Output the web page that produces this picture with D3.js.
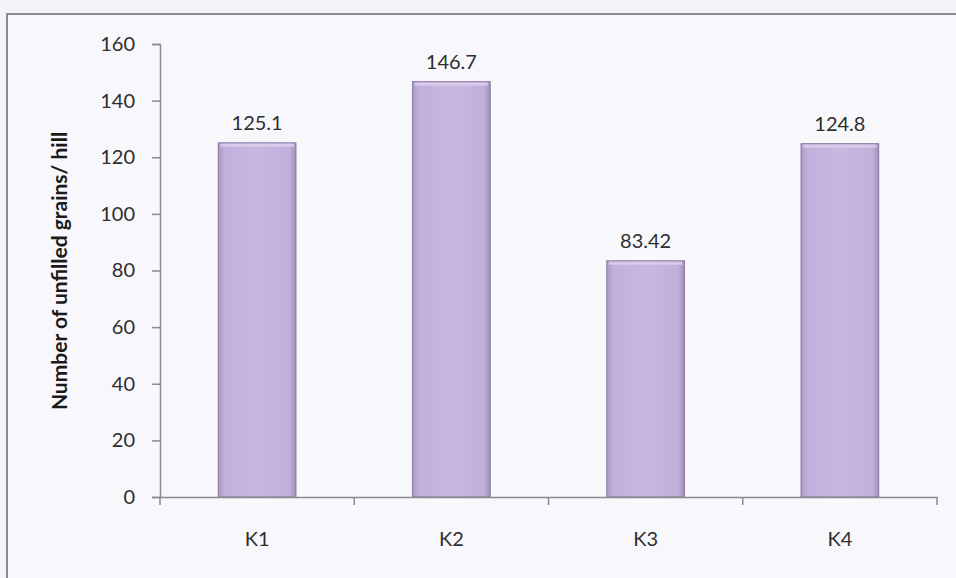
<!DOCTYPE html>
<html><head><meta charset="utf-8">
<script src="https://cdn.jsdelivr.net/npm/d3@7"></script>
<style>
html,body{margin:0;padding:0;background:#f4f4f9;}
svg{display:block;}
text{font-family:Lato,"Open Sans",sans-serif;}
</style></head>
<body>
<svg id="chart" width="956" height="578"></svg>
<script>
const categories = ["K1","K2","K3","K4"];
const values = [125.1, 146.7, 83.42, 124.8];
const valueLabels = ["125.1","146.7","83.42","124.8"];
const yTicks = [0,20,40,60,80,100,120,140,160];
const yTitle = "Number of unfilled grains/ hill";

const svg = d3.select("#chart");
const W = 956, H = 578;
const m = {left:160, right:19, top:44, bottom:81};
const pw = W - m.left - m.right, ph = H - m.top - m.bottom;

svg.append("rect").attr("x",0).attr("y",0).attr("width",W).attr("height",H).attr("fill","#f3f3f9");
svg.append("rect").attr("x",7).attr("y",14).attr("width",960).attr("height",580)
  .attr("fill","#f8f8fc").attr("stroke","#8c8c8c").attr("stroke-width",2);

const defs = svg.append("defs");
const g1 = defs.append("linearGradient").attr("id","barGrad").attr("x1","0").attr("x2","1").attr("y1","0").attr("y2","0");
[["0%","#a999c2"],["8%","#c2b0dc"],["50%","#c8b7e1"],["92%","#c2b0dc"],["100%","#9f8fb8"]]
  .forEach(([o,c])=>g1.append("stop").attr("offset",o).attr("stop-color",c));

const x = d3.scaleBand().domain(categories).range([0,pw]).paddingInner(0.6).paddingOuter(0.3);
const y = d3.scaleLinear().domain([0,160]).range([ph,0]);

const g = svg.append("g").attr("transform",`translate(${m.left},${m.top})`);

// bars
g.selectAll("rect.bar").data(values).enter().append("rect").attr("class","bar")
  .attr("x",(d,i)=>x(categories[i]))
  .attr("y",d=>y(d))
  .attr("width",x.bandwidth())
  .attr("height",d=>ph - y(d))
  .attr("fill","url(#barGrad)")
  .attr("stroke","#8a7aa3").attr("stroke-width",1);
g.selectAll("rect.hl").data(values).enter().append("rect").attr("class","hl")
  .attr("x",(d,i)=>x(categories[i])+2)
  .attr("y",d=>y(d)+1)
  .attr("width",x.bandwidth()-4)
  .attr("height",3)
  .attr("fill","#ddd0ee").attr("opacity",0.8);

// value labels
g.selectAll("text.val").data(values).enter().append("text").attr("class","val")
  .attr("x",(d,i)=>x(categories[i])+x.bandwidth()/2)
  .attr("y",d=>y(d)-13)
  .attr("text-anchor","middle")
  .attr("font-size",20).attr("fill","#2e2e2e")
  .text((d,i)=>valueLabels[i]);

// y axis
const yAxis = d3.axisLeft(y).tickValues(yTicks).tickSize(8).tickPadding(17);
const ya = g.append("g").call(yAxis);
ya.select(".domain").attr("stroke","#8a8a8a").attr("stroke-width",1.5);
ya.selectAll(".tick line").attr("stroke","#8a8a8a").attr("stroke-width",1.5);
ya.selectAll(".tick text").attr("font-size",20).attr("fill","#2e2e2e").attr("font-family","Lato,sans-serif");

// x axis
const step = pw/categories.length;
const xa = g.append("g").attr("transform",`translate(0,${ph})`).call(d3.axisBottom(x).tickSize(0).tickPadding(35));
xa.select(".domain").attr("stroke","#8a8a8a").attr("stroke-width",1.5);
xa.selectAll(".tick text").attr("font-size",20).attr("fill","#2e2e2e").attr("font-family","Lato,sans-serif");
const bounds = d3.range(categories.length+1).map(i=>i*step);
xa.selectAll("line.xt").data(bounds).enter().append("line").attr("class","xt")
  .attr("x1",d=>d).attr("x2",d=>d).attr("y1",0).attr("y2",8)
  .attr("stroke","#8a8a8a").attr("stroke-width",1.5);

// y title
svg.append("text")
  .attr("transform",`translate(67,271) rotate(-90)`)
  .attr("text-anchor","middle").attr("font-size",21).attr("font-weight","bold").attr("fill","#1a1a1a")
  .text(yTitle);
</script>
</body></html>
